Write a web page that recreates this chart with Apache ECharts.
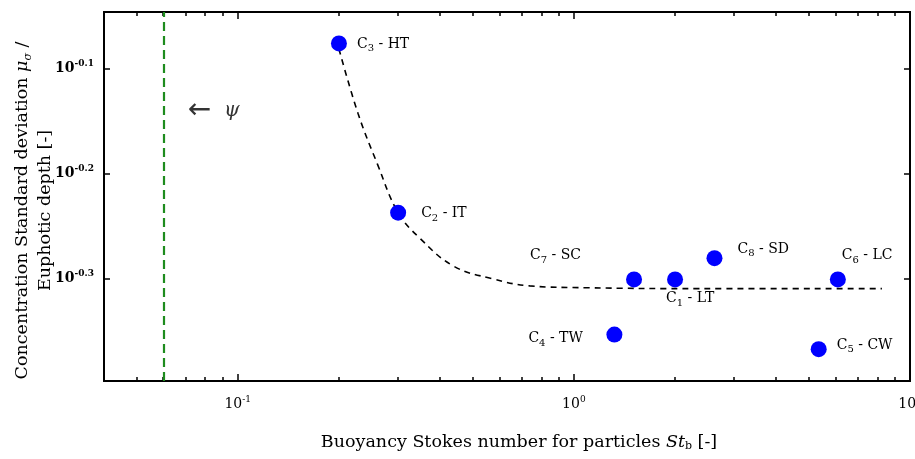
<!DOCTYPE html>
<html>
<head>
<meta charset="utf-8">
<script src="https://cdn.jsdelivr.net/npm/echarts@6/dist/echarts.min.js"></script>
<style>html,body{margin:0;padding:0;background:#fff}#c{width:915px;height:459px}</style>
</head>
<body>
<div id="c"></div>
<script>
// ---- data ----
const caseIds   = ['1', '2', '3', '4', '5', '6', '7', '8'];
const caseCodes = ['LT', 'IT', 'HT', 'TW', 'CW', 'LC', 'SC', 'SD'];
const stokes    = [2.0, 0.30, 0.20, 1.32, 5.35, 6.1, 1.51, 2.62];
const sigma     = [0.500, 0.579, 0.840, 0.443, 0.429, 0.500, 0.500, 0.524];
const fitX = [0.20, 0.228, 0.26, 0.30, 0.347, 0.438, 0.569, 0.739, 1.09, 2.38, 8.25];
const fitY = [0.830, 0.720, 0.645, 0.579, 0.548, 0.515, 0.501, 0.493, 0.491, 0.490, 0.490];
const psiX = 0.06;
const psiLabelPos = [0.071, 0.724];
const xRange = [0.04, 10];
const yRange = [0.4, 0.9];
const xMajorTicks = [0.1, 1, 10];
const xMinorTicks = [0.05, 0.06, 0.07, 0.08, 0.09, 0.2, 0.3, 0.4, 0.5, 0.6, 0.7, 0.8, 0.9, 2, 3, 4, 5, 6, 7, 8, 9];
const yTickExponents = [-0.3, -0.2, -0.1];

// ---- styles (label placement per case) ----
const labelOffsets = {
  '1': [-9, 19], '2': [23, 1], '3': [18, 1], '4': [-86, 4],
  '5': [18, -4], '6': [4, -24], '7': [-104, -24], '8': [23, -9]
};

const lg = Math.log10;
const SERIF = '"DejaVu Serif", "Liberation Serif", serif';

const xMaj = xMajorTicks.map(lg), xMin = xMinorTicks.map(lg);

function xAx(pos, ticks, len, labels) {
  return {
    type: 'value', position: pos, min: lg(xRange[0]), max: lg(xRange[1]),
    axisLine: { show: true, onZero: false, lineStyle: { color: '#000', width: 2 } },
    axisTick: { show: true, inside: true, length: len, customValues: ticks, lineStyle: { color: '#000', width: 1.5 } },
    axisLabel: labels ? {
      show: true, customValues: xMaj, margin: 14,
      formatter: v => '{b|10}{s|' + Math.round(v) + '}',
      rich: { b: { fontFamily: SERIF, fontSize: 14, color: '#000' },
              s: { fontFamily: SERIF, fontSize: 9, color: '#000', verticalAlign: 'top', padding: [0, 0, 10, 0] } }
    } : { show: false },
    splitLine: { show: false }
  };
}
function yAx(pos, labels) {
  return {
    type: 'value', position: pos, min: lg(yRange[0]), max: lg(yRange[1]),
    axisLine: { show: true, onZero: false, lineStyle: { color: '#000', width: 2 } },
    axisTick: { show: true, inside: true, length: 6, customValues: yTickExponents, lineStyle: { color: '#000', width: 1.5 } },
    axisLabel: labels ? {
      show: true, customValues: yTickExponents, margin: 10,
      formatter: v => '{b|10}{s|' + v.toFixed(1) + '}',
      rich: { b: { fontFamily: SERIF, fontSize: 14, fontWeight: 'bold', color: '#000' },
              s: { fontFamily: SERIF, fontSize: 9, fontWeight: 'bold', color: '#000', verticalAlign: 'top', padding: [0, 0, 10, 0] } }
    } : { show: false },
    splitLine: { show: false }
  };
}

const xAxes = [xAx('bottom', xMaj, 7, true), xAx('bottom', xMin, 4, false), xAx('top', xMaj, 7, false), xAx('top', xMin, 4, false)];
xAxes[0].name = '{n|Buoyancy Stokes number for particles }{i|St}{sub|b}{n| [-]}';
xAxes[0].nameLocation = 'middle';
xAxes[0].nameGap = 52;
xAxes[0].nameMoveOverlap = false;
xAxes[0].nameTextStyle = { padding: [0, 0, 0, 24], rich: {
  n: { fontFamily: SERIF, fontSize: 17.5, color: '#000' },
  i: { fontFamily: SERIF, fontSize: 17.5, fontStyle: 'italic', color: '#000' },
  sub: { fontFamily: SERIF, fontSize: 11, color: '#000', verticalAlign: 'bottom', padding: [8, 0, 0, 0] } } };

const yAxes = [yAx('left', true), yAx('right', false)];
yAxes[0].name = '{n|Concentration Standard deviation }{i|μ}{sub|σ}{n| /}\n{n|Euphotic depth [-]}';
yAxes[0].nameLocation = 'middle';
yAxes[0].nameRotate = 90;
yAxes[0].nameGap = 47;
yAxes[0].nameMoveOverlap = false;
yAxes[0].nameTextStyle = { lineHeight: 23, padding: [0, 28, 0, 0], rich: {
  n: { fontFamily: SERIF, fontSize: 17.5, color: '#000', lineHeight: 23 },
  i: { fontFamily: SERIF, fontSize: 17.5, fontStyle: 'italic', color: '#000', lineHeight: 23 },
  sub: { fontFamily: SERIF, fontSize: 11, fontStyle: 'italic', color: '#000', verticalAlign: 'bottom', lineHeight: 23, padding: [6, 0, 0, 0] } } };

const pts = caseIds.map((id, i) => ({
  value: [lg(stokes[i]), lg(sigma[i])],
  label: {
    show: true, position: 'inside', align: 'left', verticalAlign: 'middle',
    offset: labelOffsets[id],
    formatter: '{c|C}{sub|' + id + '}{c| - ' + caseCodes[i] + '}'
  }
}));

const option = {
  animation: false,
  backgroundColor: '#fff',
  grid: { left: 104, right: 5, top: 12, bottom: 78, containLabel: false, outerBoundsMode: 'none' },
  xAxis: xAxes,
  yAxis: yAxes,
  series: [
    {
      type: 'line', xAxisIndex: 0, yAxisIndex: 0, smooth: 0.4, showSymbol: false,
      data: fitX.map((x, i) => [lg(x), lg(fitY[i])]),
      lineStyle: { color: '#000', width: 1.6, type: [6, 5] },
      z: 2,
      markLine: {
        silent: true, symbol: 'none', label: { show: false },
        lineStyle: { color: '#1e8c1e', width: 2.2, type: [9, 5] },
        data: [{ xAxis: lg(psiX) }]
      }
    },
    {
      type: 'scatter', xAxisIndex: 0, yAxisIndex: 0, symbolSize: 16,
      itemStyle: { color: '#0000ff', opacity: 1 },
      label: {
        color: '#000',
        rich: {
          c: { fontFamily: SERIF, fontSize: 14, color: '#000' },
          sub: { fontFamily: SERIF, fontSize: 10, color: '#000', verticalAlign: 'bottom', padding: [9, 0, 0, 0] }
        }
      },
      data: pts, z: 3
    },
    {
      type: 'scatter', xAxisIndex: 0, yAxisIndex: 0, symbolSize: 1, silent: true,
      itemStyle: { color: 'rgba(0,0,0,0)' },
      label: {
        show: true, position: 'inside', align: 'left', verticalAlign: 'middle',
        formatter: '{a|←}{p|  ψ}',
        rich: {
          a: { fontFamily: '"DejaVu Sans", sans-serif', fontSize: 28, color: '#000' },
          p: { fontFamily: SERIF, fontSize: 20, fontStyle: 'italic', color: '#000' }
        }
      },
      data: [[lg(psiLabelPos[0]), lg(psiLabelPos[1])]]
    }
  ]
};

echarts.init(document.getElementById('c'), null, { renderer: 'canvas' }).setOption(option);
</script>
</body>
</html>
